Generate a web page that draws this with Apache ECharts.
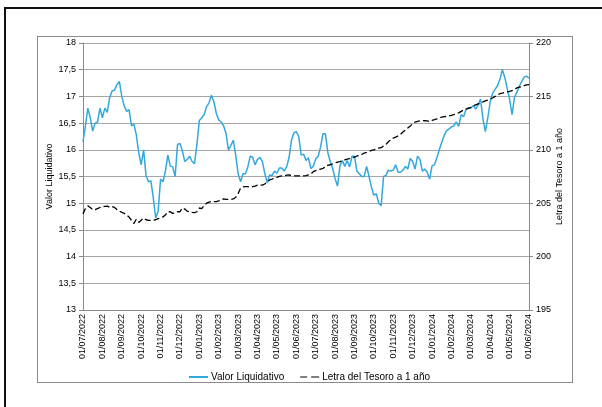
<!DOCTYPE html>
<html>
<head>
<meta charset="utf-8">
<script src="https://cdn.jsdelivr.net/npm/echarts@6/dist/echarts.min.js"></script>
<style>
html, body { margin: 0; padding: 0; background: #fff; overflow: hidden; }
#frame { position: absolute; left: 4px; top: 7px; width: 700px; height: 500px; border: 2px solid #111; }
#box { position: absolute; left: 37px; top: 36px; width: 534px; height: 345px; border: 1px solid #8c8c8c; }
#chart { position: absolute; left: 0; top: 0; width: 602px; height: 407px; }
</style>
</head>
<body>
<div id="frame"></div>
<div id="box"></div>
<div id="chart"></div>
<script>
// Etiquetas mensuales del eje X
var monthLabels = [
    '01/07/2022', '01/08/2022', '01/09/2022', '01/10/2022', '01/11/2022', '01/12/2022',
    '01/01/2023', '01/02/2023', '01/03/2023', '01/04/2023', '01/05/2023', '01/06/2023',
    '01/07/2023', '01/08/2023', '01/09/2023', '01/10/2023', '01/11/2023', '01/12/2023',
    '01/01/2024', '01/02/2024', '01/03/2024', '01/04/2024', '01/05/2024', '01/06/2024'
];
var perMonth = 8; // observaciones entre etiquetas

// Valor liquidativo (eje izquierdo)
var valorLiquidativo = [
    16.15, 16.45, 16.78, 16.6, 16.35, 16.5, 16.52, 16.78, 16.6, 16.78,
    16.7, 16.98, 17.1, 17.12, 17.22, 17.28, 17.0, 16.82, 16.72, 16.75,
    16.45, 16.48, 16.28, 15.94, 15.72, 16.0, 15.52, 15.4, 15.42, 15.1,
    14.72, 14.85, 15.45, 15.4, 15.6, 15.9, 15.7, 15.68, 15.5, 16.1,
    16.12, 15.98, 15.78, 15.82, 15.88, 15.78, 15.74, 16.1, 16.55, 16.6,
    16.66, 16.81, 16.88, 17.02, 16.9, 16.68, 16.56, 16.52, 16.45, 16.31,
    16.0, 16.08, 16.18, 15.9, 15.55, 15.4, 15.55, 15.55, 15.68, 15.88,
    15.86, 15.72, 15.82, 15.86, 15.78, 15.56, 15.38, 15.53, 15.52, 15.6,
    15.56, 15.66, 15.66, 15.6, 15.68, 15.85, 16.18, 16.32, 16.34, 16.25,
    15.9, 15.92, 15.8, 15.85, 15.65, 15.69, 15.83, 15.88, 16.05, 16.3,
    16.3, 15.95, 15.78, 15.65, 15.46, 15.32, 15.7, 15.8, 15.69, 15.8,
    15.68, 15.88, 15.88, 15.6, 15.55, 15.5, 15.5, 15.69, 15.5, 15.3,
    15.15, 15.18, 15.0, 14.95, 15.5, 15.52, 15.62, 15.6, 15.62, 15.72,
    15.58, 15.58, 15.62, 15.69, 15.64, 15.84, 15.78, 15.64, 15.88, 15.82,
    15.6, 15.64, 15.58, 15.45, 15.7, 15.72, 15.85, 16.0, 16.14, 16.27,
    16.36, 16.39, 16.43, 16.45, 16.52, 16.44, 16.66, 16.62, 16.75, 16.79,
    16.78, 16.83, 16.76, 16.84, 16.95, 16.58, 16.34, 16.6, 16.9, 17.06,
    17.13, 17.2, 17.32, 17.5, 17.36, 17.15, 16.95, 16.66, 16.98, 17.08,
    17.19, 17.28, 17.36, 17.38, 17.34
];

// Letra del Tesoro a 1 año (eje derecho)
var letraTesoro = [
    204.0, 204.5, 204.75, 204.6, 204.4, 204.4, 204.5, 204.6, 204.65, 204.7,
    204.72, 204.62, 204.68, 204.6, 204.4, 204.25, 204.15, 204.05, 203.9, 203.7,
    203.4, 203.1, 203.5, 203.2, 203.4, 203.6, 203.45, 203.4, 203.4, 203.4,
    203.45, 203.55, 203.62, 203.72, 203.9, 204.2, 204.2, 204.05, 204.1, 204.2,
    204.2, 204.55, 204.45, 204.25, 204.2, 204.15, 204.12, 204.2, 204.55, 204.5,
    204.8, 205.0, 205.1, 205.15, 205.15, 205.15, 205.22, 205.32, 205.4, 205.35,
    205.36, 205.35, 205.4, 205.55, 205.9, 206.4, 206.52, 206.55, 206.55, 206.5,
    206.55, 206.6, 206.7, 206.7, 206.7, 206.8, 207.0, 207.18, 207.25, 207.35,
    207.42, 207.52, 207.55, 207.57, 207.62, 207.64, 207.6, 207.55, 207.55, 207.55,
    207.55, 207.55, 207.58, 207.65, 207.72, 207.95, 208.05, 208.12, 208.2, 208.25,
    208.45, 208.55, 208.6, 208.68, 208.78, 208.85, 208.9, 208.98, 209.05, 209.12,
    209.18, 209.25, 209.32, 209.42, 209.48, 209.56, 209.7, 209.76, 209.86, 209.95,
    210.0, 210.05, 210.15, 210.2, 210.36, 210.5, 210.75, 210.95, 211.1, 211.18,
    211.3, 211.45, 211.67, 211.85, 212.05, 212.22, 212.45, 212.6, 212.67, 212.7,
    212.74, 212.72, 212.7, 212.66, 212.75, 212.82, 212.9, 213.0, 213.05, 213.1,
    213.12, 213.18, 213.23, 213.3, 213.38, 213.46, 213.6, 213.72, 213.8, 213.88,
    213.98, 214.1, 214.2, 214.3, 214.36, 214.48, 214.58, 214.65, 214.76, 214.85,
    215.0, 215.15, 215.25, 215.3, 215.37, 215.42, 215.48, 215.55, 215.62, 215.8,
    215.86, 215.92, 216.0, 216.08, 216.1
];

// Categorías: una etiqueta por mes, el resto vacías
var categories = [];
for (var i = 0; i < valorLiquidativo.length; i++) {
    categories.push(i % perMonth === 0 ? monthLabels[i / perMonth] : '');
}

var font = 'Liberation Sans';
var axisGray = '#8a8a8a';

var chart = echarts.init(document.getElementById('chart'));
var option = {
    animation: false,
    textStyle: { fontFamily: font },
    grid: { left: 83, right: 73, top: 43, bottom: 97 },
    legend: {
        left: 184,
        top: 367,
        itemWidth: 19,
        itemHeight: 2,
        itemGap: 16,
        textStyle: { fontFamily: font, fontSize: 10, color: '#000', padding: [0, 0, 0, -2] },
        data: [
            { name: 'Valor Liquidativo', icon: 'rect' },
            { name: 'Letra del Tesoro a 1 año', icon: 'path://M0,0h7v1h-7z M11,0h8v1h-8z' }
        ]
    },
    xAxis: {
        type: 'category',
        data: categories,
        boundaryGap: false,
        axisLine: { lineStyle: { color: axisGray } },
        axisTick: { show: false },
        axisLabel: {
            interval: perMonth - 1,
            rotate: 90,
            margin: 4,
            fontSize: 9,
            color: '#000',
            fontFamily: font
        },
        splitLine: { show: false }
    },
    yAxis: [
        {
            type: 'value',
            min: 13,
            max: 18,
            interval: 0.5,
            name: 'Valor Liquidativo',
            nameLocation: 'middle',
            nameGap: 29,
            nameMoveOverlap: false,
            nameTextStyle: { fontSize: 9, color: '#000', fontFamily: font },
            axisLine: { show: true, lineStyle: { color: axisGray } },
            axisTick: { show: true, length: 4, lineStyle: { color: axisGray } },
            axisLabel: {
                fontSize: 9,
                color: '#000',
                margin: 7,
                formatter: function (v) { return String(v).replace('.', ','); }
            },
            splitLine: { show: true, lineStyle: { color: '#a6a6a6', width: 1 } }
        },
        {
            type: 'value',
            min: 195,
            max: 220,
            interval: 5,
            name: 'Letra del Tesoro a 1 año',
            nameLocation: 'middle',
            nameGap: 26,
            nameRotate: 90,
            nameMoveOverlap: false,
            nameTextStyle: { fontSize: 9, color: '#000', fontFamily: font },
            axisLine: { show: true, lineStyle: { color: axisGray } },
            axisTick: { show: true, length: 4, lineStyle: { color: axisGray } },
            axisLabel: { fontSize: 9, color: '#000', margin: 7 },
            splitLine: { show: false }
        }
    ],
    series: [
        {
            name: 'Valor Liquidativo',
            type: 'line',
            yAxisIndex: 0,
            data: valorLiquidativo,
            symbol: 'none',
            lineStyle: { color: '#33a8dc', width: 1.5 },
            itemStyle: { color: '#33a8dc' }
        },
        {
            name: 'Letra del Tesoro a 1 año',
            type: 'line',
            yAxisIndex: 1,
            data: letraTesoro,
            symbol: 'none',
            lineStyle: { color: '#000', width: 1.3, type: [6, 3] },
            itemStyle: { color: '#000' }
        }
    ]
};
chart.setOption(option);
</script>
</body>
</html>
